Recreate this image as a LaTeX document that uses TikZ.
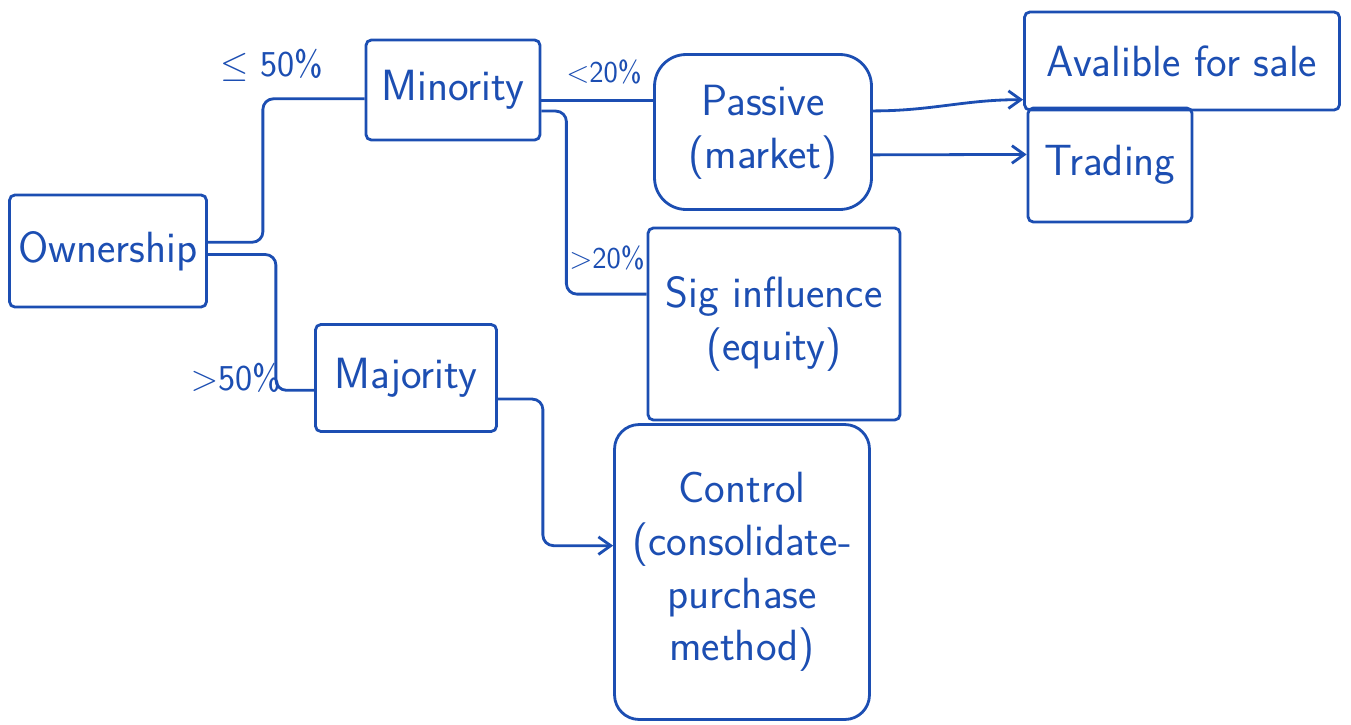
\documentclass[tikz,border=0pt]{standalone}
\usepackage{tikz}
\usetikzlibrary{positioning,calc,arrows.meta}
\definecolor{ink}{RGB}{28,78,178}

\begin{document}
\begin{tikzpicture}[x=0.02cm, y=-0.02cm,
    box/.style={draw=ink, text=ink, line width=1.6pt, rounded corners=3pt, align=center, inner sep=0pt, font=\sffamily\Huge},
    pct/.style={text=ink, font=\sffamily\huge},
    link/.style={draw=ink, line width=1.6pt, rounded corners=6pt},
    arr/.style={link, -{Straight Barb[length=7pt,width=10pt]}}]
    \useasboundingbox (0,0) rectangle (1351,724);

    % Boxes
    \node [box, minimum width=3.94cm, minimum height=2.24cm] (own) at (108,251) {Ownership};
    \node [box, minimum width=3.48cm, minimum height=2.0cm] (min) at (453,90) {Minority};
    \node [box, minimum width=3.62cm, minimum height=2.14cm] (maj) at (406,378) {Majority};
    \node [box, minimum width=4.34cm, minimum height=3.1cm, rounded corners=18pt] (pas) at (763,132) {Passive\\(market)};
    \node [box, minimum width=5.04cm, minimum height=3.84cm] (sig) at (774,324) {Sig influence\\(equity)};
    \node [box, minimum width=5.1cm, minimum height=5.9cm, rounded corners=14pt] (con) at (742,572) {Control\\(consolidate-\\purchase\\method)};
    \node [box, minimum width=6.3cm, minimum height=1.96cm] (ava) at (1182,61) {Avalible for sale};
    \node [box, minimum width=3.28cm, minimum height=2.28cm] (trd) at (1110,165) {Trading};

    % Percent labels
    \node [pct] (lmin) at (272,65) {$\leq$ 50\%};
    \node [pct, font=\sffamily\LARGE] (lpas) at (604,72) {$<$20\%};
    \node [pct, font=\sffamily\LARGE] (lsig) at (607,258) {$>$20\%};
    \node [pct] (lmaj) at (236,378) {$>$50\%};

    % Ownership split
    \draw [link] ([yshift=5pt]own.east) -- ++(55,0) |- ([yshift=-5pt]min.west);
    \draw [link] ([yshift=-2pt]own.east) -- ++(68,0) |- ([yshift=-7pt]maj.west);

    % Minority split
    \draw [link] ([yshift=-6pt]min.east) -- ([yshift=-6pt]min.east -| pas.west);
    \draw [link] ([yshift=-12pt]min.east) -- ++(25,0) |- ([yshift=17pt]sig.west);

    % Majority to control
    \draw [arr] ([yshift=-12pt]maj.east) -- ++(45,0) |- ([yshift=15pt]con.west);

    % Passive to portfolios
    \draw [arr] ([yshift=12pt]pas.east) to[out=0, in=180] ([yshift=-22pt]ava.west);
    \draw [arr] ([yshift=-13pt]pas.east) to[out=0, in=180] ([yshift=6pt]trd.west);
\end{tikzpicture}
\end{document}
